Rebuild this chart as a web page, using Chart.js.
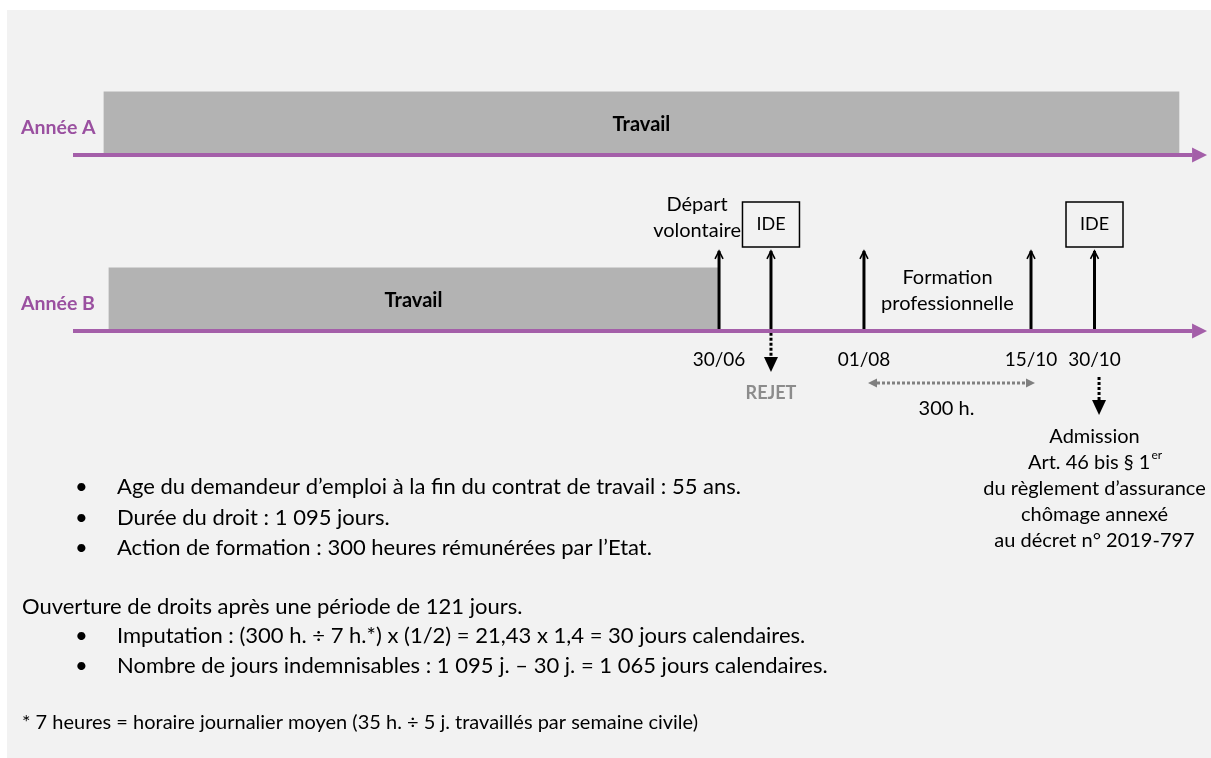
<!DOCTYPE html>
<html>
<head>
<meta charset="utf-8">
<script src="https://cdn.jsdelivr.net/npm/chart.js@4.4.1/dist/chart.umd.min.js"></script>
<style>
	html, body { margin: 0; padding: 0; background: #ffffff; }
	canvas { display: block; }
</style>
</head>
<body>
<canvas id="frise" width="1211" height="758"></canvas>
<script>
	// lignes du temps (x = % de la frise, y = rang de la ligne)
	var rows = ['Année A', 'Année B'];
	var rowLine = [1, 2];
	var workStart = [2.73, 3.17];
	var workEnd = [97.53, 56.88];
	var workLabel = ['Travail', 'Travail'];

	var eventPos = [56.97, 61.55, 69.75, 84.48, 90.08];
	var eventDates = ['30/06', '', '01/08', '15/10', '30/10'];
	var eventBox = ['', 'IDE', '', '', 'IDE'];
	var departLabel = ['Départ', 'volontaire'];
	var formationLabel = ['Formation', 'professionnelle'];
	var trainingSpan = [70.9, 84.04];
	var trainingHours = '300 h.';
	var rejetLabel = 'REJET';
	var admissionPos = 90.48;
	var admissionLabel = ['Admission', 'Art. 46 bis § 1', 'du règlement d’assurance', 'chômage annexé', 'au décret n° 2019-797'];

	var criteria = [
		'Age du demandeur d’emploi à la fin du contrat de travail : 55 ans.',
		'Durée du droit : 1 095 jours.',
		'Action de formation : 300 heures rémunérées par l’Etat.'
	];
	var ouverture = 'Ouverture de droits après une période de 121 jours.';
	var calcul = [
		'Imputation : (300 h. ÷ 7 h.*) x (1/2) = 21,43 x 1,4 = 30 jours calendaires.',
		'Nombre de jours indemnisables : 1 095 j. – 30 j. = 1 065 jours calendaires.'
	];
	var footnote = '* 7 heures = horaire journalier moyen (35 h. ÷ 5 j. travaillés par semaine civile)';

	var purple = '#a45fa9';
	var purpleText = '#9a50a0';
	var FONT = 'Lato, "Open Sans", sans-serif';

	function seg(x1, y1, x2, y2, color, width, dash, head){
		return {
			type: 'line',
			data: [{x: x1, y: y1}, {x: x2, y: y2}],
			borderColor: color,
			borderWidth: width,
			borderDash: dash || [],
			borderCapStyle: 'butt',
			pointRadius: 0,
			fill: false,
			tension: 0,
			clip: false,
			order: 1,
			head: head
		};
	}

	var datasets = [];
	datasets.push({
		type: 'bar',
		indexAxis: 'y',
		data: rows.map(function(r, i){ return {x: [workStart[i], workEnd[i]], y: rowLine[i] - 0.185}; }),
		backgroundColor: '#b3b3b3',
		borderWidth: 0,
		barThickness: 61,
		clip: false,
		order: 2
	});
	rowLine.forEach(function(l){
		datasets.push(seg(0, l, 98.68, l, purple, 4, null, {type: 'filled', len: 15, w: 7.5, color: purple}));
	});
	eventPos.forEach(function(p){
		datasets.push(seg(p, 2, p, 1.545, '#000', 3, null, {type: 'open', len: 8, w: 4, color: '#000'}));
	});
	// IDE rejetée, puis admission
	datasets.push(seg(eventPos[1], 2.01, eventPos[1], 2.148, '#000', 3, [3, 2], {type: 'filled', len: 15, w: 7, color: '#000'}));
	datasets.push(seg(admissionPos, 2.261, admissionPos, 2.392, '#000', 3, [3, 2], {type: 'filled', len: 15, w: 7, color: '#000'}));
	datasets.push(seg(trainingSpan[0], 2.295, trainingSpan[1], 2.295, '#808080', 3, [3, 2], {type: 'filled', both: true, len: 9, w: 4.5, color: '#808080'}));

	function drawHead(ctx, ax, ay, bx, by, h){
		var ang = Math.atan2(by - ay, bx - ax);
		ctx.save();
		ctx.translate(bx, by);
		ctx.rotate(ang);
		ctx.beginPath();
		if(h.type == 'open'){
			ctx.moveTo(-h.len, -h.w);
			ctx.lineTo(0, 0);
			ctx.lineTo(-h.len, h.w);
			ctx.strokeStyle = h.color;
			ctx.lineWidth = 1.6;
			ctx.stroke();
		} else {
			ctx.moveTo(h.len, 0);
			ctx.lineTo(0, -h.w);
			ctx.lineTo(0, h.w);
			ctx.closePath();
			ctx.fillStyle = h.color;
			ctx.fill();
		}
		ctx.restore();
	}

	var arrowPlugin = {
		id: 'arrows',
		afterDatasetsDraw: function(chart){
			var ctx = chart.ctx;
			chart.data.datasets.forEach(function(ds, i){
				if(!ds.head) return;
				var pts = chart.getDatasetMeta(i).data;
				var a = pts[0], b = pts[pts.length - 1];
				drawHead(ctx, a.x, a.y, b.x, b.y, ds.head);
				if(ds.head.both) drawHead(ctx, b.x, b.y, a.x, a.y, ds.head);
			});
		}
	};

	var panelPlugin = {
		id: 'panel',
		beforeDraw: function(chart){
			var ctx = chart.ctx;
			ctx.save();
			ctx.fillStyle = '#f2f2f2';
			ctx.fillRect(7, 10, chart.width - 7, chart.height - 10);
			ctx.restore();
		}
	};

	function txt(ctx, s, x, y, font, color, align, maxW){
		ctx.font = font;
		ctx.fillStyle = color || '#000';
		ctx.textAlign = align || 'center';
		ctx.textBaseline = 'middle';
		if(maxW) ctx.fillText(s, x, y, maxW); else ctx.fillText(s, x, y);
	}

	var labelPlugin = {
		id: 'labels',
		afterDraw: function(chart){
			var ctx = chart.ctx, xs = chart.scales.x, ys = chart.scales.y;
			ctx.save();
			var lineB = ys.getPixelForValue(2);
			var lbl = '20px ' + FONT;

			rows.forEach(function(r, i){
				txt(ctx, r, 21, ys.getPixelForValue(rowLine[i]) - 27, 'bold 19.5px ' + FONT, purpleText, 'left');
			});
			chart.getDatasetMeta(0).data.forEach(function(bar, i){
				txt(ctx, workLabel[i], (bar.x + bar.base) / 2, bar.y + 2, 'bold 20px ' + FONT, '#000');
			});

			eventDates.forEach(function(d, i){
				if(d) txt(ctx, d, xs.getPixelForValue(eventPos[i]), lineB + 29, '19px ' + FONT, '#000');
			});
			eventBox.forEach(function(b, i){
				if(!b) return;
				var cx = xs.getPixelForValue(eventPos[i]);
				ctx.strokeStyle = '#000';
				ctx.lineWidth = 1.5;
				ctx.strokeRect(cx - 28.5, lineB - 129, 57, 45);
				txt(ctx, b, cx, lineB - 107, '18px ' + FONT, '#000');
			});

			var dx = xs.getPixelForValue(eventPos[0]) - 22;
			txt(ctx, departLabel[0], dx, lineB - 126, lbl, '#000');
			txt(ctx, departLabel[1], dx, lineB - 100, lbl, '#000');

			var fx = (xs.getPixelForValue(eventPos[2]) + xs.getPixelForValue(eventPos[3])) / 2;
			txt(ctx, formationLabel[0], fx, lineB - 53, lbl, '#000');
			txt(ctx, formationLabel[1], fx, lineB - 27, lbl, '#000');

			txt(ctx, rejetLabel, xs.getPixelForValue(eventPos[1]), lineB + 62, 'bold 18px ' + FONT, '#8c8c8c');
			txt(ctx, trainingHours, (xs.getPixelForValue(trainingSpan[0]) + xs.getPixelForValue(trainingSpan[1])) / 2 - 5, lineB + 78, lbl, '#000');

			var ax = xs.getPixelForValue(eventPos[4]);
			admissionLabel.forEach(function(s, i){
				var y = lineB + 106 + i * 25.8;
				if(i == 1){
					ctx.font = lbl;
					var w1 = ctx.measureText(s).width;
					ctx.font = '12px ' + FONT;
					var w2 = ctx.measureText('er').width;
					var x0 = ax - (w1 + w2) / 2;
					txt(ctx, s, x0, y, lbl, '#000', 'left');
					txt(ctx, 'er', x0 + w1 + 1, y - 8, '12px ' + FONT, '#000', 'left');
				} else {
					txt(ctx, s, ax, y, lbl, '#000');
				}
			});

			// texte du bas
			var body = '22px ' + FONT;
			var widths = [635, 273, 544];
			criteria.forEach(function(s, i){
				var y = 487 + i * 30.5;
				txt(ctx, '•', 75, y, body, '#000', 'left');
				txt(ctx, s, 117, y, body, '#000', 'left', widths[i]);
			});
			txt(ctx, ouverture, 22, 607, body, '#000', 'left', 504);
			var widths2 = [692, 713];
			calcul.forEach(function(s, i){
				var y = 636 + i * 30;
				txt(ctx, '•', 75, y, body, '#000', 'left');
				txt(ctx, s, 117, y, body, '#000', 'left', widths2[i]);
			});
			txt(ctx, footnote, 22, 723, '20px ' + FONT, '#000', 'left', 676);
			ctx.restore();
		}
	};

	var ctx = document.getElementById('frise').getContext('2d');
	var myChart = new Chart(ctx, {
		type: 'line',
		data: { datasets: datasets },
		options: {
			responsive: false,
			animation: false,
			events: [],
			layout: {
				autoPadding: false,
				padding: { left: 73, right: 4, top: 155, bottom: 427 }
			},
			scales: {
				x: { type: 'linear', min: 0, max: 100, offset: false, display: false },
				y: { type: 'linear', min: 1, max: 2, reverse: true, offset: false, display: false }
			},
			plugins: {
				legend: { display: false },
				tooltip: { enabled: false },
				title: { display: false }
			}
		},
		plugins: [panelPlugin, arrowPlugin, labelPlugin]
	});
</script>
</body>
</html>
